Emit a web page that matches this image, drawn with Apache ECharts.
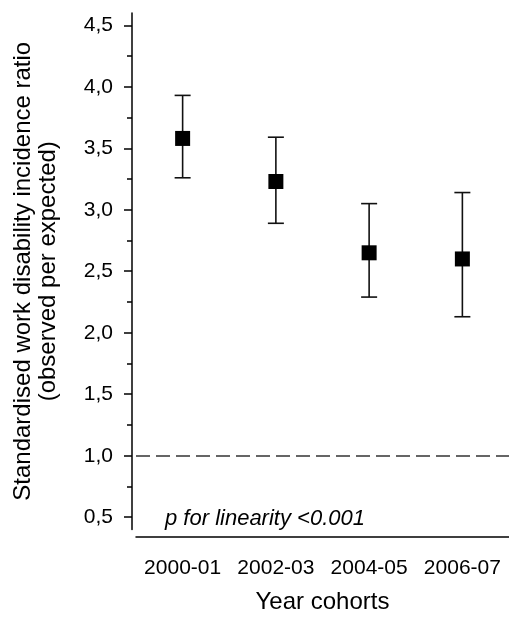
<!DOCTYPE html>
<html>
<head>
<meta charset="utf-8">
<script src="https://cdn.jsdelivr.net/npm/echarts@6/dist/echarts.min.js"></script>
<style>html,body{margin:0;padding:0;background:#fff}#c{width:509px;height:619px}</style>
</head>
<body>
<div id="c"></div>
<script>
var categories = ['2000-01', '2002-03', '2004-05', '2006-07'];
var ratios = [3.58, 3.23, 2.65, 2.60];
var lower = [3.26, 2.89, 2.29, 2.13];
var upper = [3.93, 3.59, 3.05, 3.14];
var majorTicks = [0.5, 1.0, 1.5, 2.0, 2.5, 3.0, 3.5, 4.0, 4.5];
var minorTicks = [0.75, 1.25, 1.75, 2.25, 2.75, 3.25, 3.75, 4.25];
var referenceValue = 1.0;
var annotation = 'p for linearity <0.001';

var font = 'Liberation Sans, Arial, sans-serif';
var chart = echarts.init(document.getElementById('c'), null, {renderer: 'canvas'});
var errData = categories.map(function (c, i) { return [i, lower[i], upper[i]]; });

chart.setOption({
  animation: false,
  title: {
    text: annotation, left: 160, top: 503,
    textStyle: {fontFamily: font, fontSize: 22, fontStyle: 'italic', fontWeight: 'normal', color: '#000'}
  },
  grid: {left: 136, right: -5, top: 13, bottom: 87.5, containLabel: false},
  xAxis: {
    type: 'category', data: categories, offset: 7.5,
    axisLine: {lineStyle: {color: '#000', width: 1.5}},
    axisTick: {alignWithLabel: true, length: 7, lineStyle: {color: '#000', width: 1.5}},
    axisLabel: {interval: 0, fontFamily: font, fontSize: 21, color: '#000', margin: 21},
    splitLine: {show: false},
    name: 'Year cohorts', nameLocation: 'middle', nameGap: 53,
    nameTextStyle: {fontFamily: font, fontSize: 24, color: '#000'}
  },
  yAxis: [{
    type: 'value', min: 0.4, max: 4.6, offset: 4,
    axisLine: {show: true, lineStyle: {color: '#000', width: 1.5}},
    axisTick: {show: true, customValues: majorTicks, length: 8, lineStyle: {color: '#000', width: 1.5}},
    axisLabel: {customValues: majorTicks, fontFamily: font, fontSize: 21, color: '#000', margin: 19,
      formatter: function (v) { return v.toFixed(1).replace('.', ','); }},
    splitLine: {show: false},
    name: 'Standardised work disability incidence ratio\n(observed per expected)',
    nameLocation: 'middle', nameGap: 71,
    nameTextStyle: {fontFamily: font, fontSize: 24, lineHeight: 25, color: '#000', align: 'center'}
  }, {
    type: 'value', min: 0.4, max: 4.6, offset: 4, position: 'left',
    axisLine: {show: false},
    axisTick: {show: true, customValues: minorTicks, length: 5, lineStyle: {color: '#000', width: 1.5}},
    axisLabel: {show: false},
    splitLine: {show: false}
  }],
  series: [{
    type: 'custom',
    data: errData,
    renderItem: function (params, api) {
      var x = api.value(0);
      var lo = api.coord([x, api.value(1)]);
      var hi = api.coord([x, api.value(2)]);
      var hw = 8;
      var st = {stroke: '#111', lineWidth: 1.6};
      return {type: 'group', children: [
        {type: 'line', shape: {x1: lo[0], y1: lo[1], x2: hi[0], y2: hi[1]}, style: st},
        {type: 'line', shape: {x1: lo[0] - hw, y1: lo[1], x2: lo[0] + hw, y2: lo[1]}, style: st},
        {type: 'line', shape: {x1: hi[0] - hw, y1: hi[1], x2: hi[0] + hw, y2: hi[1]}, style: st}
      ]};
    },
    z: 2
  }, {
    type: 'scatter',
    data: ratios,
    symbol: 'rect', symbolSize: 15,
    itemStyle: {color: '#000', opacity: 1},
    z: 3,
    markLine: {
      silent: true, symbol: 'none', label: {show: false},
      lineStyle: {color: '#333', width: 1.5, type: [14, 6]},
      data: [{yAxis: referenceValue}]
    }
  }]
});
</script>
</body>
</html>
